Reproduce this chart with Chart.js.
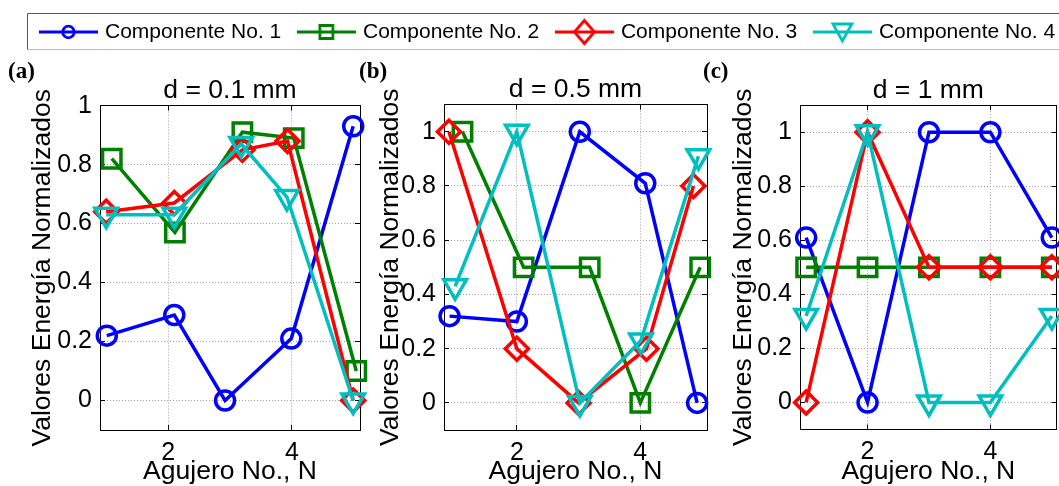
<!DOCTYPE html>
<html>
<head>
<meta charset="utf-8">
<script src="https://cdn.jsdelivr.net/npm/chart.js@4.4.1/dist/chart.umd.min.js"></script>
<style>
html, body { margin:0; padding:0; background:#fff; overflow:hidden; width:1059px; height:486px; position:relative; }
canvas { position:absolute; }
.lbl { position:absolute; font: bold 23px "Liberation Serif", "Times New Roman", serif; color:#000; line-height:1; white-space:nowrap; }
</style>
</head>
<body>
<canvas id="legendCanvas" width="1120" height="100" style="left:0px;top:0px"></canvas>
<canvas id="chartA" width="380" height="426" style="left:0px;top:60px"></canvas>
<canvas id="chartB" width="383" height="426" style="left:344px;top:60px"></canvas>
<canvas id="chartC" width="380" height="426" style="left:700px;top:60px"></canvas>
<div class="lbl" style="left:8px;top:59px">(a)</div>
<div class="lbl" style="left:359px;top:59px">(b)</div>
<div class="lbl" style="left:703px;top:59px">(c)</div>
<script>
// ---------------- DATA ----------------
const SERIES_NAMES = ['Componente No. 1', 'Componente No. 2', 'Componente No. 3', 'Componente No. 4'];
const PANEL_TITLES = ['d = 0.1 mm', 'd = 0.5 mm', 'd = 1 mm'];
const X_TITLE = 'Agujero No., N';
const Y_TITLE = 'Valores Energía Normalizados';
const X_TICKS = [2, 4];
const X_TICK_LABELS = ['2', '4'];
const Y_TICKS = [0, 0.2, 0.4, 0.6, 0.8, 1];
const Y_TICK_LABELS = ['0', '0.2', '0.4', '0.6', '0.8', '1'];

// panel (a) d = 0.1 mm
const aX1 = [1.01, 2.10, 2.92, 3.99, 4.99];
const aY1 = [0.22, 0.29, 0.00, 0.21, 0.93];
const aX2 = [1.09, 2.11, 3.20, 4.03, 5.04];
const aY2 = [0.82, 0.57, 0.91, 0.89, 0.10];
const aX3 = [1.00, 2.10, 3.20, 3.93, 4.99];
const aY3 = [0.64, 0.67, 0.85, 0.88, 0.00];
const aX4 = [1.00, 2.10, 3.18, 3.92, 4.99];
const aY4 = [0.63, 0.63, 0.87, 0.69, 0.00];

// panel (b) d = 0.5 mm
const bX1 = [0.91, 2.00, 3.02, 4.08, 4.92];
const bY1 = [0.32, 0.30, 1.00, 0.81, 0.00];
const bX2 = [1.12, 2.11, 3.18, 4.00, 4.97];
const bY2 = [1.00, 0.50, 0.50, 0.00, 0.50];
const bX3 = [0.90, 2.00, 3.00, 4.10, 4.86];
const bY3 = [1.00, 0.20, 0.00, 0.20, 0.80];
const bX4 = [1.00, 2.00, 3.02, 4.01, 4.94];
const bY4 = [0.43, 1.00, 0.00, 0.23, 0.91];

// panel (c) d = 1 mm
const cX = [1, 2, 3, 4, 5];
const cY1 = [0.61, 0.00, 1.00, 1.00, 0.61];
const cY2 = [0.50, 0.50, 0.50, 0.50, 0.50];
const cY3 = [0.00, 1.00, 0.50, 0.50, 0.50];
const cY4 = [0.32, 1.00, 0.00, 0.00, 0.32];

// ---------------- STYLE ----------------
const FONT = '"Liberation Sans", Arial, Helvetica, sans-serif';
const COLORS = ['#0000ff', '#008000', '#ff0000', '#00bfbf'];
const STYLES = ['circle', 'rect', 'rectRot', 'triangle'];
const RADII = [9.5, 13, 11.5, 13];
const ROTS = [0, 0, 0, 180];

function makeIcon(i) {
  const c = document.createElement('canvas');
  c.width = 68; c.height = 30;
  const g = c.getContext('2d');
  const cx = 38.5, cy = 15;
  g.strokeStyle = COLORS[i];
  g.lineWidth = 3;
  g.beginPath(); g.moveTo(9, cy); g.lineTo(68, cy); g.stroke();
  g.lineWidth = 2.8;
  g.beginPath();
  if (i === 0) { g.arc(cx, cy, 5.8, 0, Math.PI * 2); }
  else if (i === 1) { g.rect(cx - 6.5, cy - 6.5, 13, 13); }
  else if (i === 2) { g.moveTo(cx, cy - 11.5); g.lineTo(cx + 10, cy); g.lineTo(cx, cy + 11.5); g.lineTo(cx - 10, cy); g.closePath(); }
  else { g.moveTo(cx - 9.5, cy - 8); g.lineTo(cx + 9.5, cy - 8); g.lineTo(cx, cy + 9); g.closePath(); }
  g.stroke();
  return c;
}
const ICONS = [0, 1, 2, 3].map(makeIcon);

const legendFrame = {
  id: 'legendFrame',
  beforeDraw(chart) {
    const g = chart.ctx;
    g.save();
    g.fillStyle = '#fff';
    g.fillRect(27, 13, 1100, 37);
    g.lineWidth = 1;
    g.strokeStyle = '#bdbdbd';
    g.beginPath(); g.moveTo(27.5, 49.5); g.lineTo(1120, 49.5); g.stroke();
    g.strokeStyle = '#555';
    g.beginPath(); g.moveTo(27.5, 49.5); g.lineTo(27.5, 13.5); g.lineTo(1120, 13.5); g.stroke();
    g.restore();
  }
};

new Chart(document.getElementById('legendCanvas'), {
  type: 'scatter',
  data: { datasets: SERIES_NAMES.map((n, i) => ({ label: n, data: [], borderColor: COLORS[i] })) },
  options: {
    responsive: false, animation: false, devicePixelRatio: 1,
    events: [],
    layout: { padding: { left: 23.3, top: 11.5 } },
    scales: { x: { display: false }, y: { display: false } },
    plugins: {
      tooltip: { enabled: false },
      legend: {
        display: true, position: 'top', align: 'start',
        labels: {
          usePointStyle: true, pointStyleWidth: 61.2, padding: 10,
          font: { family: FONT, size: 21 }, color: '#000',
          generateLabels: (c) => c.data.datasets.map((d, i) => ({
            text: d.label, pointStyle: ICONS[i], fillStyle: 'rgba(0,0,0,0)',
            strokeStyle: COLORS[i], lineWidth: 0, hidden: false, datasetIndex: i, fontColor: '#000'
          }))
        }
      }
    }
  },
  plugins: [legendFrame]
});

function axisCommon(extra) {
  return Object.assign({
    grid: { display: true, drawOnChartArea: true, color: '#a0a0a0', lineWidth: 1, drawTicks: true, tickLength: -5, tickColor: '#000', tickWidth: 1 },
    border: { display: true, color: '#000', width: 1, dash: [1, 2] }
  }, extra);
}

function makePanel(id, p) {
  const datasets = [0, 1, 2, 3].map(i => ({
    label: SERIES_NAMES[i],
    data: p.xs[i].map((x, j) => ({ x: x, y: p.ys[i][j] })),
    showLine: true,
    borderColor: COLORS[i],
    backgroundColor: 'rgba(0,0,0,0)',
    borderWidth: 3.5,
    pointStyle: STYLES[i],
    pointRadius: RADII[i],
    pointHoverRadius: RADII[i],
    pointRotation: ROTS[i],
    pointBorderColor: COLORS[i],
    pointBackgroundColor: 'rgba(0,0,0,0)',
    pointBorderWidth: 3.5,
    tension: 0,
    fill: false,
    clip: false,
    order: 4 - i
  }));
  const xTicksFn = s => { s.ticks = X_TICKS.map(v => ({ value: v })); };
  const yTicksFn = s => { s.ticks = Y_TICKS.map(v => ({ value: v })); };
  return new Chart(document.getElementById(id), {
    type: 'scatter',
    data: { datasets },
    options: {
      responsive: false, animation: false, devicePixelRatio: 1,
      events: [],
      layout: { padding: { left: 0, right: p.padRight, top: 0, bottom: 0 } },
      plugins: {
        legend: { display: false },
        tooltip: { enabled: false },
        title: {
          display: true, text: p.title, fullSize: false, color: '#000',
          font: { family: FONT, size: 26.5, weight: 'normal', lineHeight: 1.1 },
          padding: { top: p.titleTop, bottom: p.titleBottom }
        }
      },
      scales: {
        x: axisCommon({
          type: 'linear', position: 'bottom', min: p.xMin, max: p.xMax,
          afterBuildTicks: xTicksFn,
          afterFit: s => { s.height = p.xH; },
          ticks: { font: { family: FONT, size: 25 }, color: '#000', padding: 13, maxRotation: 0, autoSkip: false,
                   callback: (v, i) => X_TICK_LABELS[i] },
          title: { display: true, text: X_TITLE, color: '#000', font: { family: FONT, size: 26.5, lineHeight: 1 }, padding: { top: 0, bottom: 1 } }
        }),
        y: axisCommon({
          type: 'linear', position: 'left', min: p.yMin, max: p.yMax,
          afterBuildTicks: yTicksFn,
          afterFit: s => { s.width = 100; },
          ticks: { font: { family: FONT, size: 25 }, color: '#000', padding: 13, autoSkip: false,
                   callback: (v, i) => Y_TICK_LABELS[i] },
          title: { display: true, text: Y_TITLE, color: '#000', font: { family: FONT, size: 26.5, lineHeight: 1 }, padding: { top: p.yTitlePad, bottom: 0 } }
        }),
        x2: {
          type: 'linear', position: 'top', min: p.xMin, max: p.xMax,
          afterBuildTicks: xTicksFn,
          afterFit: s => { s.height = 0; },
          ticks: { display: false },
          grid: { display: true, drawOnChartArea: false, drawTicks: true, tickLength: -5, tickColor: '#000', tickWidth: 1 },
          border: { display: true, color: '#000', width: 1 }
        },
        y2: {
          type: 'linear', position: 'right', min: p.yMin, max: p.yMax,
          afterBuildTicks: yTicksFn,
          afterFit: s => { s.width = 0; },
          ticks: { display: false },
          grid: { display: true, drawOnChartArea: false, drawTicks: true, tickLength: -5, tickColor: '#000', tickWidth: 1 },
          border: { display: true, color: '#000', width: 1 }
        }
      }
    }
  });
}

makePanel('chartA', {
  title: PANEL_TITLES[0],
  xs: [aX1, aX2, aX3, aX4], ys: [aY1, aY2, aY3, aY4],
  xMin: 0.9, xMax: 5.1, yMin: -0.1, yMax: 1.0,
  padRight: 20, titleTop: 16.5, titleBottom: 0, xH: 56, yTitlePad: 29.2
});
makePanel('chartB', {
  title: PANEL_TITLES[1],
  xs: [bX1, bX2, bX3, bX4], ys: [bY1, bY2, bY3, bY4],
  xMin: 0.82, xMax: 5.08, yMin: -0.1, yMax: 1.1,
  padRight: 20, titleTop: 15.5, titleBottom: 0, xH: 56, yTitlePad: 33.2
});
makePanel('chartC', {
  title: PANEL_TITLES[2],
  xs: [cX, cX, cX, cX], ys: [cY1, cY2, cY3, cY4],
  xMin: 0.9, xMax: 5.08, yMin: -0.1, yMax: 1.1,
  padRight: 23.3, titleTop: 16, titleBottom: 0, xH: 56.5, yTitlePad: 30.2
});
</script>
</body>
</html>
